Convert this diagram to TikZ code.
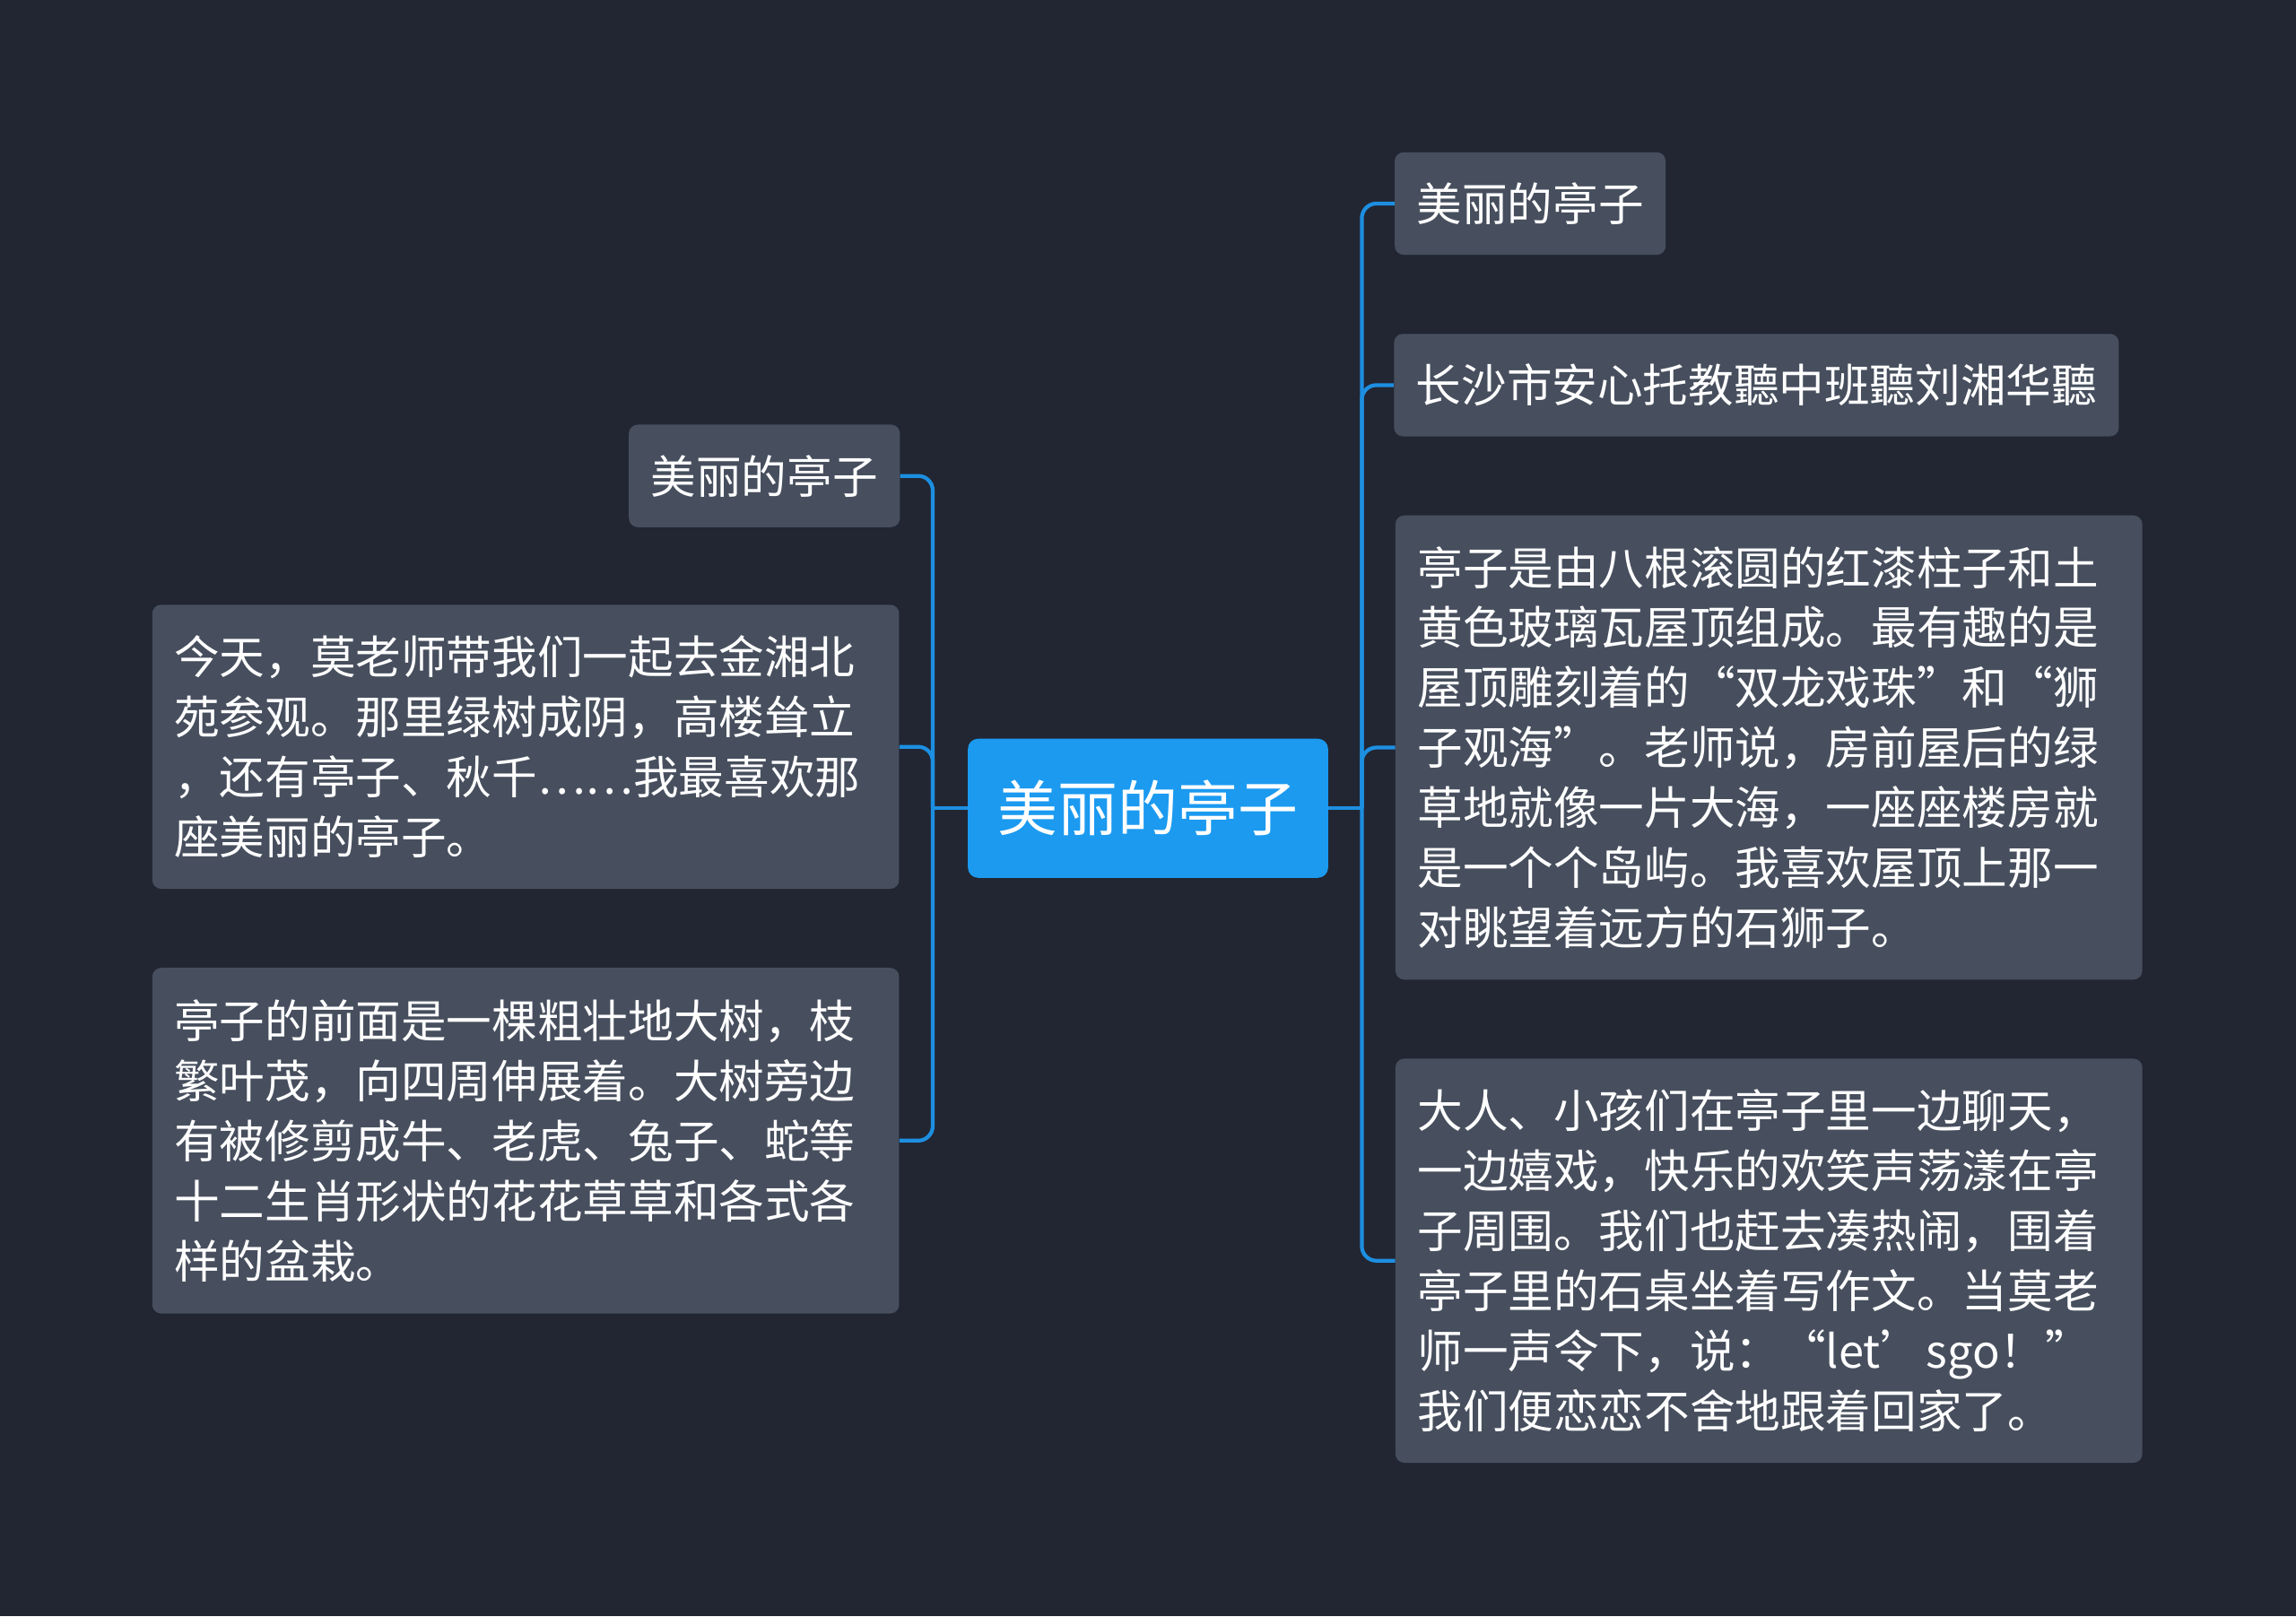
\documentclass[tikz,border=0pt]{standalone}
\usepackage{fontspec}
\setmainfont{Noto Sans CJK SC}
\newfontfamily\fwfont[RawFeature=+fwid]{Noto Sans CJK SC}
\newcommand\fwq[1]{{\fwfont #1}}
\definecolor{bgcol}{HTML}{222633}
\definecolor{boxcol}{HTML}{474F5E}
\definecolor{rootcol}{HTML}{1B9AF0}
\definecolor{linkcol}{HTML}{1D8FE1}
\tikzset{
  topic/.style={draw=none, fill=boxcol, rounded corners=6pt, text=white,
    font=\fontsize{31}{41}\selectfont, inner xsep=15pt, inner ysep=0pt, align=left},
  roottopic/.style={fill=rootcol, rounded corners=7pt, text=white,
    font=\fontsize{41}{50}\selectfont, minimum width=246pt, minimum height=95pt, inner sep=0pt},
  link/.style={draw=linkcol, line width=2.6pt, rounded corners=10pt}
}
\begin{document}
\begin{tikzpicture}[x=1pt, y=-1pt]
\fill[bgcol] (0,0) rectangle (1568,1104);
\useasboundingbox (0,0) rectangle (1568,1104);
\node[roottopic] (root) at (784,552) {美丽的亭子};
% left side
\node[topic, minimum width=184pt, minimum height=70pt] (l1) at (522,325) {美丽的亭子};
\node[topic, text width=480pt, minimum height=194pt] (l2) at (359,510)
  {今天，莫老师带我们一起去金湘北\\苑参观。那里绿树成阴，高楼耸立\\，还有亭子、秋千……我最喜欢那\\座美丽的亭子。};
\node[topic, text width=480pt, minimum height=236pt] (l3) at (359,779)
  {亭子的前面是一棵粗壮地大树，枝\\繁叶茂，向四周伸展着。大树旁边\\有被修剪成牛、老虎、兔子、蛇等\\十二生肖形状的花花草草和各式各\\样的盆栽。};
% right side
\node[topic, minimum width=184pt, minimum height=70pt] (r1) at (1045,139) {美丽的亭子};
\node[topic, minimum width=493pt, minimum height=70pt] (r2) at (1199.5,263) {长沙市安心托教聽中班聽刘湘华聽};
\node[topic, text width=480pt, minimum height=317pt] (r3) at (1208,510.5)
  {亭子是由八根滚圆的红漆柱子和土\\黄色玻璃瓦屋顶组成。最有趣的是\\屋顶雕刻着的\fwq{“}双龙戏珠\fwq{”}和\fwq{“}狮\\子观海\fwq{”}。老师说，房前屋后的绿\\草地就像一片大海，一座座楼房就\\是一个个岛屿。我喜欢屋顶上那一\\对眺望着远方的石狮子。};
\node[topic, text width=480pt, minimum height=276pt] (r4) at (1208,861)
  {大人、小孩们在亭子里一边聊天，\\一边嬉戏，快乐的欢笑声荡漾在亭\\子周围。我们也赶去凑热闹，围着\\亭子里的石桌坐着写作文。当莫老\\师一声令下，说：\fwq{“}let\fwq{’}sgo！\fwq{”}\\我们便恋恋不舍地跟着回家了。};
% connectors
\coordinate (lj) at (637,552);
\coordinate (rj) at (930,552);
\draw[link] (root.west) -- (lj);
\draw[link] (root.east) -- (rj);
\foreach \n in {l1,l2,l3}
  \draw[link] (lj) |- (\n.east);
\foreach \n in {r1,r2,r3,r4}
  \draw[link] (rj) |- (\n.west);
\end{tikzpicture}
\end{document}
